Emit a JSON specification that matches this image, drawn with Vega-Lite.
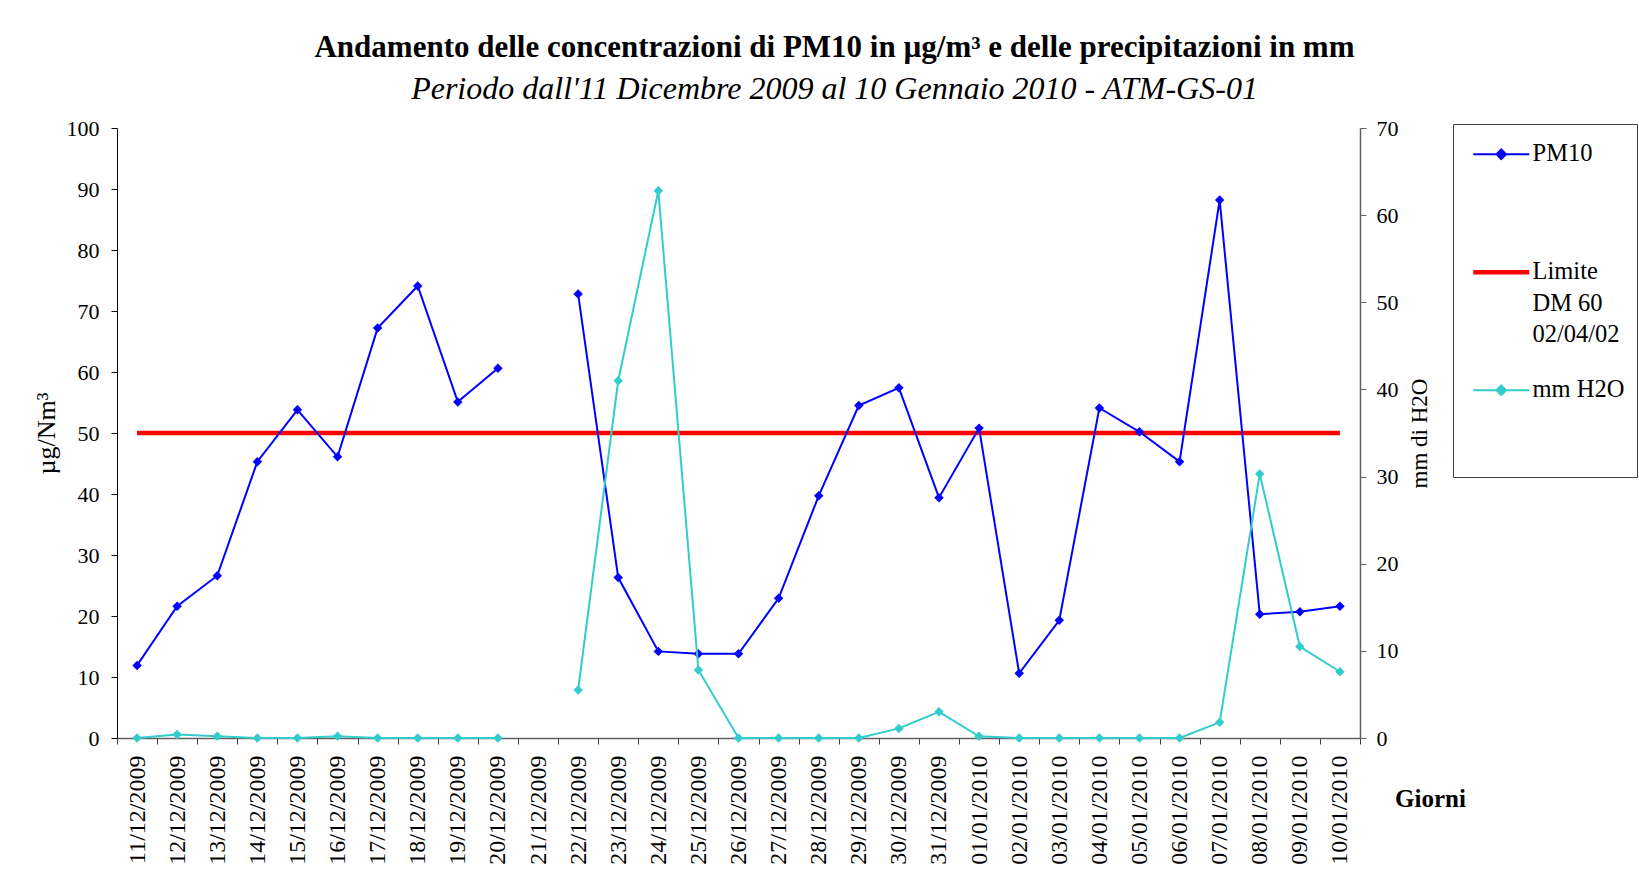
{
  "$schema": "https://vega.github.io/schema/vega-lite/v6.json",
  "width": 1243,
  "height": 610,
  "autosize": "none",
  "padding": {"left": 117, "top": 128, "right": 279, "bottom": 134},
  "background": "white",
  "title": {
    "text": "Andamento delle concentrazioni di PM10 in µg/m³ e delle precipitazioni in mm",
    "subtitle": "Periodo dall'11 Dicembre 2009 al 10 Gennaio 2010 - ATM-GS-01",
    "font": "Liberation Serif",
    "fontSize": 31,
    "fontWeight": "bold",
    "color": "black",
    "subtitleFont": "Liberation Serif",
    "subtitleFontSize": 32,
    "subtitleFontStyle": "italic",
    "subtitleColor": "black",
    "subtitlePadding": 10,
    "anchor": "middle",
    "frame": "group",
    "dx": 96,
    "offset": 11
  },
  "config": {
    "view": {"stroke": null},
    "axis": {"grid": false}
  },
  "data": {
    "values": [
      {"giorno": "11/12/2009", "pm10": 11.9, "mm": 0, "limite": 50},
      {"giorno": "12/12/2009", "pm10": 21.6, "mm": 0.4, "limite": 50},
      {"giorno": "13/12/2009", "pm10": 26.6, "mm": 0.2, "limite": 50},
      {"giorno": "14/12/2009", "pm10": 45.3, "mm": 0, "limite": 50},
      {"giorno": "15/12/2009", "pm10": 53.8, "mm": 0, "limite": 50},
      {"giorno": "16/12/2009", "pm10": 46.1, "mm": 0.2, "limite": 50},
      {"giorno": "17/12/2009", "pm10": 67.2, "mm": 0, "limite": 50},
      {"giorno": "18/12/2009", "pm10": 74.1, "mm": 0, "limite": 50},
      {"giorno": "19/12/2009", "pm10": 55.1, "mm": 0, "limite": 50},
      {"giorno": "20/12/2009", "pm10": 60.6, "mm": 0, "limite": 50},
      {"giorno": "21/12/2009", "pm10": null, "mm": null, "limite": 50},
      {"giorno": "22/12/2009", "pm10": 72.8, "mm": 5.5, "limite": 50},
      {"giorno": "23/12/2009", "pm10": 26.3, "mm": 41.0, "limite": 50},
      {"giorno": "24/12/2009", "pm10": 14.2, "mm": 62.8, "limite": 50},
      {"giorno": "25/12/2009", "pm10": 13.8, "mm": 7.8, "limite": 50},
      {"giorno": "26/12/2009", "pm10": 13.8, "mm": 0, "limite": 50},
      {"giorno": "27/12/2009", "pm10": 22.9, "mm": 0, "limite": 50},
      {"giorno": "28/12/2009", "pm10": 39.7, "mm": 0, "limite": 50},
      {"giorno": "29/12/2009", "pm10": 54.5, "mm": 0, "limite": 50},
      {"giorno": "30/12/2009", "pm10": 57.4, "mm": 1.1, "limite": 50},
      {"giorno": "31/12/2009", "pm10": 39.4, "mm": 3.0, "limite": 50},
      {"giorno": "01/01/2010", "pm10": 50.8, "mm": 0.2, "limite": 50},
      {"giorno": "02/01/2010", "pm10": 10.6, "mm": 0, "limite": 50},
      {"giorno": "03/01/2010", "pm10": 19.3, "mm": 0, "limite": 50},
      {"giorno": "04/01/2010", "pm10": 54.1, "mm": 0, "limite": 50},
      {"giorno": "05/01/2010", "pm10": 50.2, "mm": 0, "limite": 50},
      {"giorno": "06/01/2010", "pm10": 45.3, "mm": 0, "limite": 50},
      {"giorno": "07/01/2010", "pm10": 88.2, "mm": 1.8, "limite": 50},
      {"giorno": "08/01/2010", "pm10": 20.3, "mm": 30.3, "limite": 50},
      {"giorno": "09/01/2010", "pm10": 20.7, "mm": 10.5, "limite": 50},
      {"giorno": "10/01/2010", "pm10": 21.6, "mm": 7.6, "limite": 50}
    ]
  },
  "encoding": {
    "x": {
      "field": "giorno",
      "type": "ordinal",
      "bandPosition": 0.5,
      "scale": {
        "type": "band",
        "paddingInner": 0,
        "paddingOuter": 0,
        "domain": ["11/12/2009","12/12/2009","13/12/2009","14/12/2009","15/12/2009","16/12/2009","17/12/2009","18/12/2009","19/12/2009","20/12/2009","21/12/2009","22/12/2009","23/12/2009","24/12/2009","25/12/2009","26/12/2009","27/12/2009","28/12/2009","29/12/2009","30/12/2009","31/12/2009","01/01/2010","02/01/2010","03/01/2010","04/01/2010","05/01/2010","06/01/2010","07/01/2010","08/01/2010","09/01/2010","10/01/2010"]
      },
      "axis": {
        "title": "Giorni",
        "titleFont": "Liberation Serif",
        "titleFontSize": 25,
        "titleFontWeight": "bold",
        "titleColor": "black",
        "titleX": 1313,
        "titleY": 60,
        "titleAngle": 0,
        "titleAlign": "center",
        "titleBaseline": "middle",
        "labelAngle": 270,
        "labelFont": "Liberation Serif",
        "labelFontSize": 24,
        "labelColor": "black",
        "labelPadding": 11,
        "labelOverlap": false,
        "tickBand": "extent",
        "tickSize": 6,
        "tickColor": "#404040",
        "domainColor": "#606060",
        "domainWidth": 1.5
      }
    },
    "color": {
      "type": "nominal",
      "scale": {"domain": ["PM10", "Limite", "mm H2O"], "range": ["#0000FF", "#FF0000", "#33CCCC"]},
      "legend": {
        "orient": "none",
        "legendX": 1336,
        "legendY": -4,
        "title": " ",
        "titleFontSize": 5,
        "titlePadding": 1,
        "strokeColor": "#404040",
        "fillColor": "white",
        "padding": 12,
        "symbolSize": 3136,
        "symbolStrokeWidth": 2,
        "symbolOffset": 24,
        "labelFont": "Liberation Serif",
        "labelFontSize": 24.5,
        "labelColor": "black",
        "labelOffset": 19,
        "labelLimit": 300,
        "rowPadding": 30,
        "labelExpr": "datum.label == 'Limite' ? ['Limite', 'DM 60', '02/04/02'] : [datum.label, '', '']",
        "encode": {
          "labels": {
            "update": {
              "lineHeight": {"value": 31.5}
            }
          },
          "symbols": {
            "update": {
              "shape": {"signal": "datum.value === 'Limite' ? 'M-1,0H1' : 'M-1,0H1M0,-0.17L0.17,0L0,0.17L-0.17,0Z'"},
              "strokeWidth": {"signal": "datum.value === 'Limite' ? 4.5 : 2"},
              "stroke": {"signal": "scale('color', datum.value)"},
              "fill": {"signal": "scale('color', datum.value)"},
              "opacity": {"value": 1}
            }
          }
        }
      }
    }
  },
  "layer": [
    {
      "layer": [
        {
          "mark": {"type": "line", "strokeWidth": 4.5},
          "encoding": {
            "y": {"field": "limite", "type": "quantitative"},
            "color": {"datum": "Limite"}
          }
        },
        {
          "mark": {"type": "line", "strokeWidth": 2},
          "encoding": {
            "y": {"field": "pm10", "type": "quantitative"},
            "color": {"datum": "PM10"}
          }
        },
        {
          "mark": {"type": "point", "shape": "diamond", "filled": true, "size": 90, "opacity": 1},
          "encoding": {
            "y": {"field": "pm10", "type": "quantitative"},
            "color": {"datum": "PM10"}
          }
        }
      ],
      "encoding": {
        "y": {
          "type": "quantitative",
          "scale": {"domain": [0, 100]},
          "axis": {
            "orient": "left",
            "title": "µg/Nm³",
            "values": [0,10,20,30,40,50,60,70,80,90,100],
            "labelFont": "Liberation Serif",
            "labelFontSize": 22,
            "labelColor": "black",
            "labelPadding": 12,
            "tickSize": 6,
            "tickColor": "black",
            "domainColor": "black",
            "titleFont": "Liberation Serif",
            "titleFontSize": 26,
            "titleFontWeight": "normal",
            "titleColor": "black",
            "titlePadding": 7
          }
        }
      }
    },
    {
      "layer": [
        {
          "mark": {"type": "line", "strokeWidth": 2},
          "encoding": {
            "y": {"field": "mm", "type": "quantitative"},
            "color": {"datum": "mm H2O"}
          }
        },
        {
          "mark": {"type": "point", "shape": "diamond", "filled": true, "size": 90, "opacity": 1},
          "encoding": {
            "y": {"field": "mm", "type": "quantitative"},
            "color": {"datum": "mm H2O"}
          }
        }
      ],
      "encoding": {
        "y": {
          "type": "quantitative",
          "scale": {"domain": [0, 70]},
          "axis": {
            "orient": "right",
            "title": "mm di H2O",
            "values": [0,10,20,30,40,50,60,70],
            "labelFont": "Liberation Serif",
            "labelFontSize": 22,
            "labelColor": "black",
            "labelPadding": 10,
            "tickSize": 6,
            "tickColor": "#606060",
            "domainColor": "#606060",
            "domainWidth": 1.5,
            "titleFont": "Liberation Serif",
            "titleFontSize": 23,
            "titleFontWeight": "normal",
            "titleColor": "black",
            "titleAngle": 270,
            "titleBaseline": "top",
            "titlePadding": 10
          }
        }
      }
    }
  ],
  "resolve": {"scale": {"y": "independent"}}
}
